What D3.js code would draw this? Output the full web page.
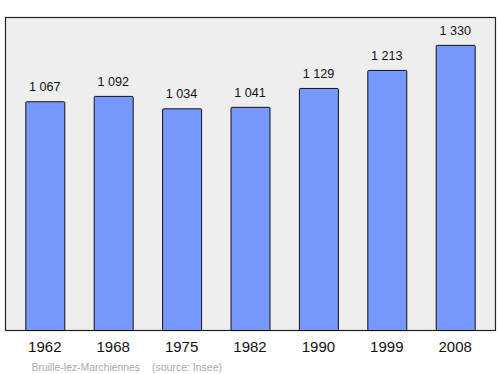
<!DOCTYPE html>
<html><head><meta charset="utf-8">
<script src="https://cdn.jsdelivr.net/npm/d3@7"></script>
<style>body{margin:0;background:#fff}svg{display:block}</style>
</head><body>
<script>
const years = ["1962","1968","1975","1982","1990","1999","2008"];
const population = [1067,1092,1034,1041,1129,1213,1330];
const valueLabels = ["1 067","1 092","1 034","1 041","1 129","1 213","1 330"];
const commune = "Bruille-lez-Marchiennes";
const source = "(source: Insee)";

(function(){
const W=500,H=374;
const svg=d3.select("body").append("svg").attr("width",W).attr("height",H);
const pL=5,pR=495,pT=17,pB=330;
const font="Liberation Sans, Arial, sans-serif";
svg.append("rect").attr("x",pL+0.5).attr("y",pT+0.5).attr("width",pR-pL).attr("height",pB-pT)
  .attr("fill","#eeeeee").attr("stroke","#222").attr("stroke-width",1.2);
const x=d3.scaleBand().domain(years).range([pL,pR]).paddingInner(0.43).paddingOuter(0.297);
const y=d3.scaleLinear().domain([0,1460]).range([pB,pT]);
const g=svg.append("g");
g.selectAll("rect.bar").data(years).enter().append("rect").attr("class","bar")
  .attr("x",d=>x(d)+0.5).attr("y",(d,i)=>y(population[i])+0.5)
  .attr("width",x.bandwidth()).attr("height",(d,i)=>pB-y(population[i]))
  .attr("rx",1).attr("fill","#7799ff").attr("stroke","#111").attr("stroke-width",1);
g.selectAll("text.val").data(years).enter().append("text")
  .attr("x",d=>x(d)+x.bandwidth()/2).attr("y",(d,i)=>y(population[i])-10)
  .attr("text-anchor","middle").attr("font-family",font)
  .attr("font-size",12.6).attr("fill","#111").text((d,i)=>valueLabels[i]);
const ax=svg.append("g").attr("transform",`translate(0,${pB})`)
  .call(d3.axisBottom(x).tickSize(0).tickPadding(11));
ax.select(".domain").remove();
ax.selectAll("text").attr("font-family",font).attr("font-size",15).attr("fill","#111");
svg.append("text").attr("x",31.5).attr("y",371).attr("font-family",font)
  .attr("font-size",10.4).attr("fill","#aaa").text(commune);
svg.append("text").attr("x",152).attr("y",371).attr("font-family",font)
  .attr("font-size",10.5).attr("fill","#aaa").text(source);
})();
</script>
</body></html>
